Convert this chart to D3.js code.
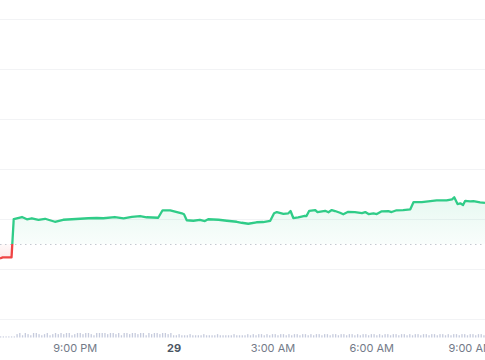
<!DOCTYPE html>
<html>
<head>
<meta charset="utf-8">
<script src="https://cdn.jsdelivr.net/npm/d3@7"></script>
<style>
  html, body { margin: 0; padding: 0; background: #fff; }
  svg { display: block; font-family: Inter, "Noto Sans", sans-serif; }
</style>
</head>
<body>
<svg id="chart" width="485" height="360"></svg>
<script>
// ---- data ----
const times = [
  "2024-02-28 18:44","2024-02-28 18:49","2024-02-28 19:05","2024-02-28 19:09","2024-02-28 19:24",
  "2024-02-28 19:33","2024-02-28 19:42","2024-02-28 19:54","2024-02-28 20:06","2024-02-28 20:24",
  "2024-02-28 20:39","2024-02-28 20:55","2024-02-28 21:25","2024-02-28 21:40","2024-02-28 21:52",
  "2024-02-28 22:13","2024-02-28 22:29","2024-02-28 22:44","2024-02-28 22:59","2024-02-28 23:11",
  "2024-02-28 23:32","2024-02-28 23:40","2024-02-28 23:54","2024-02-29 00:15","2024-02-29 00:19",
  "2024-02-29 00:24","2024-02-29 00:36","2024-02-29 00:48","2024-02-29 00:57","2024-02-29 01:03",
  "2024-02-29 01:22","2024-02-29 01:37","2024-02-29 01:55","2024-02-29 02:04","2024-02-29 02:16",
  "2024-02-29 02:31","2024-02-29 02:43","2024-02-29 02:56","2024-02-29 03:03","2024-02-29 03:08",
  "2024-02-29 03:20","2024-02-29 03:29","2024-02-29 03:33","2024-02-29 03:38","2024-02-29 03:47",
  "2024-02-29 03:59","2024-02-29 04:02","2024-02-29 04:07","2024-02-29 04:18","2024-02-29 04:22",
  "2024-02-29 04:36","2024-02-29 04:42","2024-02-29 04:48","2024-02-29 04:54","2024-02-29 05:03",
  "2024-02-29 05:09","2024-02-29 05:18","2024-02-29 05:30","2024-02-29 05:43","2024-02-29 05:49",
  "2024-02-29 05:55","2024-02-29 06:04","2024-02-29 06:10","2024-02-29 06:19","2024-02-29 06:31",
  "2024-02-29 06:37","2024-02-29 06:46","2024-02-29 06:58","2024-02-29 07:11","2024-02-29 07:17",
  "2024-02-29 07:32","2024-02-29 07:59","2024-02-29 08:17","2024-02-29 08:27","2024-02-29 08:31",
  "2024-02-29 08:37","2024-02-29 08:42","2024-02-29 08:47","2024-02-29 08:51","2024-02-29 09:00",
  "2024-02-29 09:06","2024-02-29 09:18","2024-02-29 09:27"
];
const prices = [
  0.9641,0.9645,0.9645,0.9799,0.9807,
  0.9798,0.9802,0.9796,0.9800,0.9788,
  0.9796,0.9798,0.9802,0.9803,0.9802,
  0.9807,0.9802,0.9808,0.9811,0.9806,
  0.9804,0.9834,0.9834,0.9822,0.9818,
  0.9794,0.9792,0.9796,0.9791,0.9798,
  0.9796,0.9792,0.9788,0.9784,0.9780,
  0.9786,0.9787,0.9792,0.9822,0.9827,
  0.9820,0.9822,0.9831,0.9803,0.9806,
  0.9812,0.9811,0.9832,0.9835,0.9827,
  0.9832,0.9826,0.9835,0.9831,0.9824,
  0.9818,0.9828,0.9827,0.9823,0.9827,
  0.9819,0.9822,0.9819,0.9830,0.9831,
  0.9827,0.9834,0.9835,0.9838,0.9867,
  0.9867,0.9874,0.9874,0.9878,0.9886,
  0.9859,0.9862,0.9855,0.9872,0.9870,
  0.9871,0.9866,0.9864
];
const openPrice = 0.9699;
const gridValues = [0.94, 0.96, 0.98, 1.00, 1.02, 1.04, 1.06];
const tickTimes = ["2024-02-28 21:00","2024-02-29 00:00","2024-02-29 03:00","2024-02-29 06:00","2024-02-29 09:00"];
const tickLabels = ["9:00 PM","29","3:00 AM","6:00 AM","9:00 AM"];
const volumeStart = "2024-02-28 18:45";
const volumes = [
  1,1,1,1,1,1,
  3,4,2,4,3,2,4,4,3,2,3,4,2,3,4,3,
  4,3,4,4,2,3,4,4,3,4,4,3,2,4,4,
  4,4,3,4,4,3,4,2,4,4,3,4,4,3,4,4,2,4,3,4,4,3,4,4,3,4,
  2,2,3,2,2,2,3,2,2,2,2,3,2,2,2,2,3,2,2,2,2,2,3,2,2,2,2,3,2,
  3,2,3,3,2,3,2,3,3,2,3,3,2,3,2,3,3,2,3,3,2,3,2,3,3,2,3,3,2,3,
  3,2,3,3,2,3,3,2,3,2,3,3,2,3,3,2,3,2,3,3,2,3,3,2,3,3,2,3,2,3,
  3,2,3,3,2,3,3,2,3,3,2,3,2,3,3,2,3,3,2,3,3,2,3,3,2
];
const domainStart = "2024-02-28 18:44";
const domainEnd = "2024-02-29 09:27";

// ---- chart ----
const W = 485, H = 360;
const parse = d3.timeParse("%Y-%m-%d %H:%M");
const data = times.map((t, i) => ({ t: parse(t), v: prices[i] }));

const x = d3.scaleTime().domain([parse(domainStart), parse(domainEnd)]).range([0, W]);
const y = d3.scaleLinear().domain([0.94, 1.06]).range([318.5, 19.3]);

const svg = d3.select("#chart");
const defs = svg.append("defs");

const baseY = y(openPrice);

defs.append("clipPath").attr("id", "above")
  .append("rect").attr("x", 0).attr("y", 0).attr("width", W).attr("height", baseY);
defs.append("clipPath").attr("id", "below")
  .append("rect").attr("x", 0).attr("y", baseY).attr("width", W).attr("height", H - baseY);

const gG = defs.append("linearGradient").attr("id", "gfill")
  .attr("gradientUnits", "userSpaceOnUse").attr("x1", 0).attr("x2", 0)
  .attr("y1", y(0.9886)).attr("y2", baseY);
gG.append("stop").attr("offset", 0).attr("stop-color", "#34c98a").attr("stop-opacity", 0.12);
gG.append("stop").attr("offset", 1).attr("stop-color", "#34c98a").attr("stop-opacity", 0.03);

const rG = defs.append("linearGradient").attr("id", "rfill")
  .attr("gradientUnits", "userSpaceOnUse").attr("x1", 0).attr("x2", 0)
  .attr("y1", baseY).attr("y2", y(0.9641));
rG.append("stop").attr("offset", 0).attr("stop-color", "#f04848").attr("stop-opacity", 0.03);
rG.append("stop").attr("offset", 1).attr("stop-color", "#f04848").attr("stop-opacity", 0.12);

// grid lines
svg.append("g").selectAll("line").data(gridValues).join("line")
  .attr("x1", 0).attr("x2", W)
  .attr("y1", d => Math.round(y(d)) + 0.5).attr("y2", d => Math.round(y(d)) + 0.5)
  .attr("stroke", "#f2f3f5").attr("stroke-width", 1);

// areas
const area = d3.area().x(d => x(d.t)).y0(baseY).y1(d => y(d.v)).curve(d3.curveLinear);
svg.append("path").datum(data).attr("d", area).attr("fill", "url(#gfill)").attr("clip-path", "url(#above)");
svg.append("path").datum(data).attr("d", area).attr("fill", "url(#rfill)").attr("clip-path", "url(#below)");

// baseline dotted
svg.append("line").attr("x1", 0).attr("x2", W)
  .attr("y1", Math.round(baseY) + 0.5).attr("y2", Math.round(baseY) + 0.5)
  .attr("stroke", "#c4c8d0").attr("stroke-width", 1).attr("stroke-dasharray", "1.5,3.5");

// lines
const line = d3.line().x(d => x(d.t)).y(d => y(d.v));
svg.append("path").datum(data).attr("d", line).attr("fill", "none")
  .attr("stroke", "#30cc88").attr("stroke-width", 2.3).attr("stroke-linejoin", "round")
  .attr("clip-path", "url(#above)");
svg.append("path").datum(data).attr("d", line).attr("fill", "none")
  .attr("stroke", "#ef4444").attr("stroke-width", 2.3).attr("stroke-linejoin", "round")
  .attr("clip-path", "url(#below)");

// volume bars
const vStart = parse(volumeStart);
const vData = volumes.map((v, i) => ({ t: d3.timeMinute.offset(vStart, i * 5), v }));
const vh = d3.scaleLinear().domain([0, 4]).range([0, 4.5]);
const vBottom = 337.5;
svg.append("g").selectAll("rect").data(vData).join("rect")
  .attr("x", d => x(d.t) - 0.6).attr("width", 1.3)
  .attr("y", d => vBottom - vh(d.v)).attr("height", d => vh(d.v))
  .attr("fill", "#c6cbdd");

// x axis labels
const tickData = tickTimes.map((t, i) => ({ t: parse(t), label: tickLabels[i] }));
const axis = d3.axisBottom(x)
  .tickValues(tickData.map(d => d.t))
  .tickFormat((d, i) => tickLabels[i])
  .tickSize(0).tickPadding(0);
const ax = svg.append("g").attr("transform", "translate(0,344)").call(axis);
ax.select(".domain").remove();
ax.selectAll("text")
  .attr("font-family", "Inter, 'Noto Sans', sans-serif")
  .attr("font-size", 11)
  .attr("dy", "0.71em")
  .attr("fill", (d, i) => i === 1 ? "#4b5563" : "#737a88")
  .attr("font-weight", (d, i) => i === 1 ? 700 : 400);
</script>
</body>
</html>
